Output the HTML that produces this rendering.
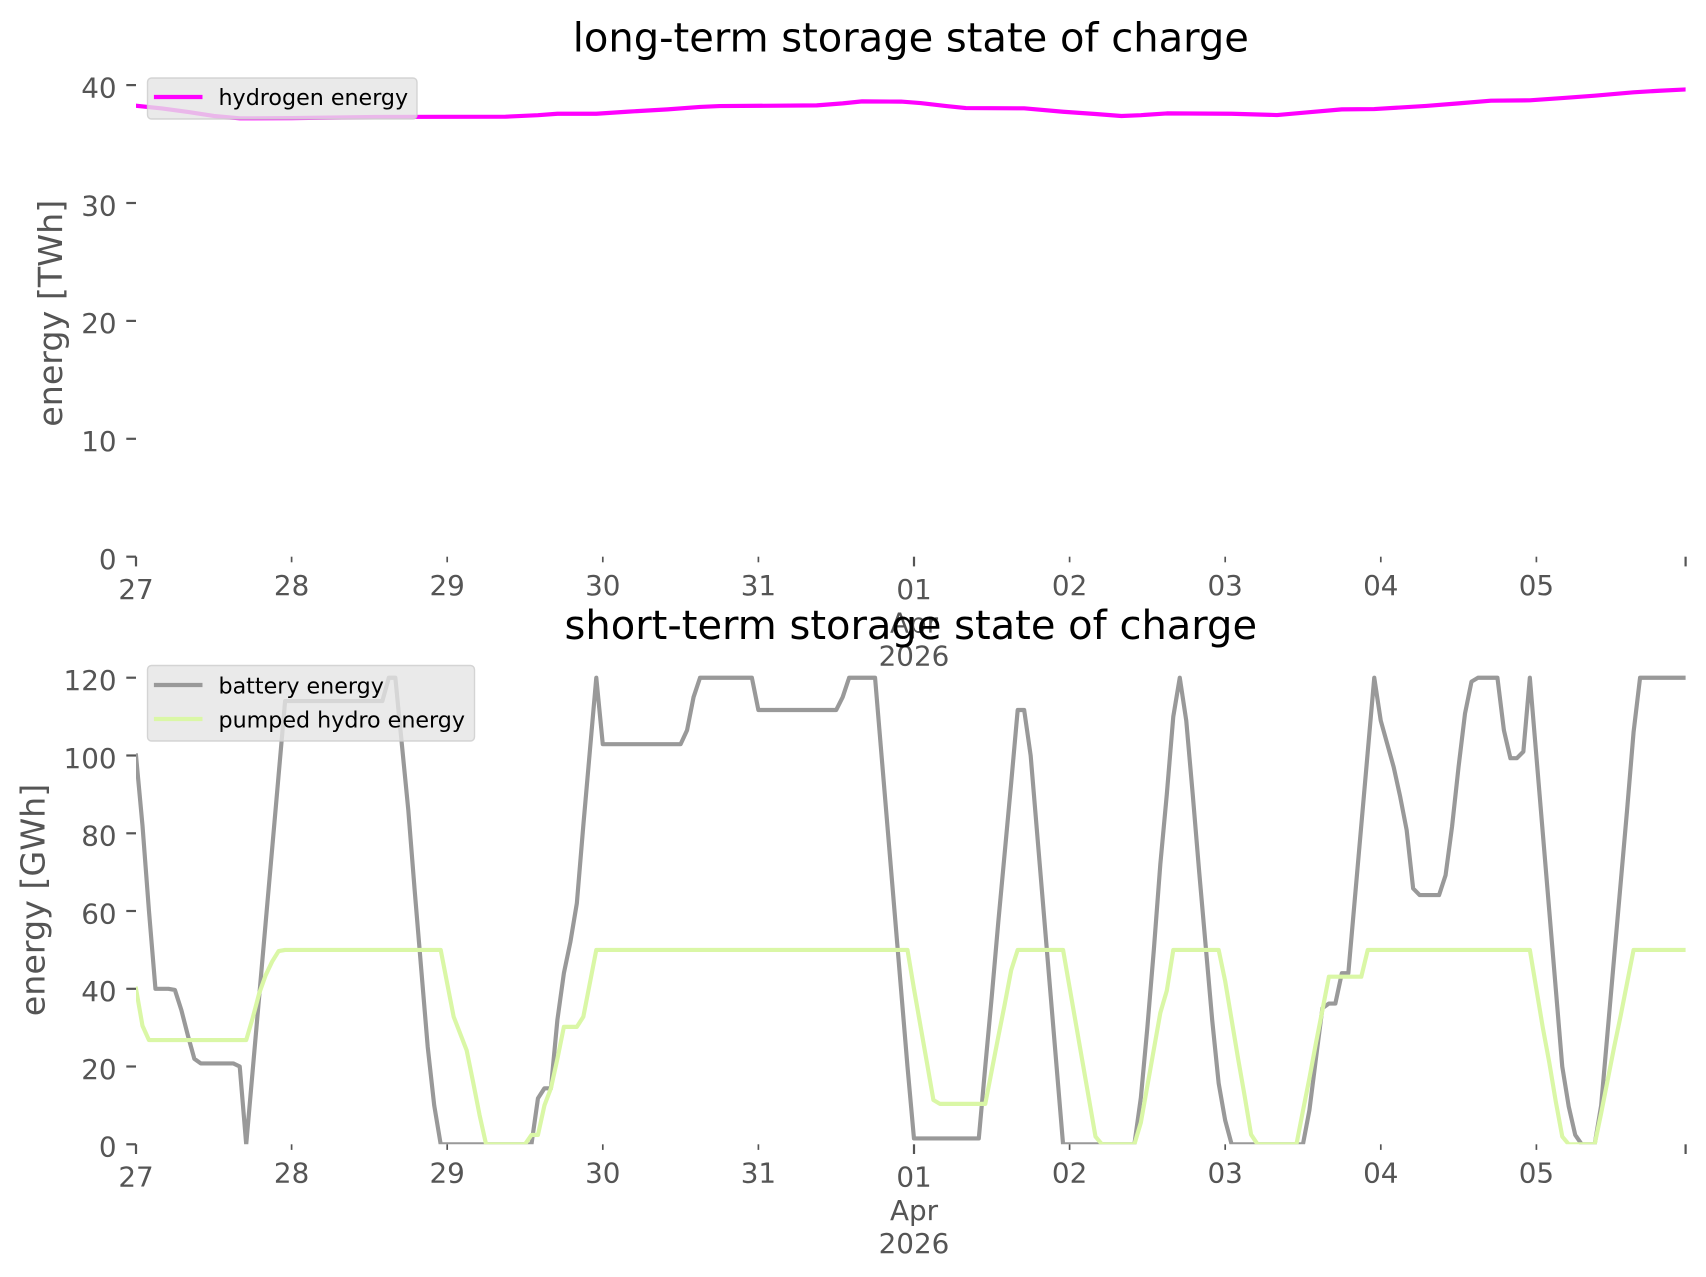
<!DOCTYPE html>
<html>
<head>
<meta charset="utf-8">
<style>
  html, body { margin: 0; padding: 0; background: #ffffff; }
  svg { display: block; }
  text { font-family: "DejaVu Sans", "Liberation Sans", sans-serif; }
  .tl { font-size: 27.8px; fill: #555555; }
  .yl { font-size: 33.3px; fill: #555555; }
  .tt { font-size: 40px; fill: #000000; }
  .lg { font-size: 22.2px; fill: #000000; }
  .tk { stroke: #555555; }
</style>
</head>
<body>
<svg width="1706" height="1277" viewBox="0 0 1706 1277" xmlns="http://www.w3.org/2000/svg">
  <defs>
    <clipPath id="clipT"><rect x="136" y="66.5" width="1549.6" height="490.2"/></clipPath>
    <clipPath id="clipB"><rect x="136" y="654.4" width="1549.6" height="489.9"/></clipPath>
  </defs>
  <rect x="0" y="0" width="1706" height="1277" fill="#ffffff"/>

  <!-- ================= TOP AXES ================= -->
  <g clip-path="url(#clipT)">
    <g transform="translate(136,556.7) scale(6.483,-11.79)">
      <polyline fill="none" stroke="#ff00ff" stroke-width="4.17" vector-effect="non-scaling-stroke" stroke-linejoin="round" stroke-linecap="square"
        points="0,38.25 4,38.02 8,37.72 12,37.38 16,37.18 24,37.2 37,37.3 57,37.32 62,37.45 65,37.57 71,37.57 76,37.75 82,37.94 87,38.15 90,38.22 105,38.28 109,38.45 112,38.62 118,38.6 121,38.48 125,38.22 128,38.05 137,38.03 143,37.74 148,37.55 152,37.38 155,37.45 159,37.6 169,37.57 176,37.46 181,37.7 186,37.94 191,37.97 199,38.23 204,38.45 209,38.68 215,38.71 220,38.9 225,39.1 231,39.39 235,39.52 239,39.63"/>
    </g>
  </g>

  <!-- top y ticks -->
  <g class="tk" stroke-width="2.2">
    <line x1="126.3" y1="556.7" x2="136" y2="556.7"/>
    <line x1="126.3" y1="438.8" x2="136" y2="438.8"/>
    <line x1="126.3" y1="320.9" x2="136" y2="320.9"/>
    <line x1="126.3" y1="203.0" x2="136" y2="203.0"/>
    <line x1="126.3" y1="85.1" x2="136" y2="85.1"/>
  </g>
  <g class="tl" text-anchor="end">
    <text x="116.6" y="569.0">0</text>
    <text x="116.6" y="451.1">10</text>
    <text x="116.6" y="333.2">20</text>
    <text x="116.6" y="215.3">30</text>
    <text x="116.6" y="97.4">40</text>
  </g>

  <!-- top x ticks -->
  <g class="tk">
    <line x1="136" y1="556.7" x2="136" y2="566.4" stroke-width="2.2"/>
    <line x1="914.0" y1="556.7" x2="914.0" y2="566.4" stroke-width="2.2"/>
    <line x1="1685.6" y1="556.7" x2="1685.6" y2="566.4" stroke-width="2.2"/>
    <line x1="291.6" y1="556.7" x2="291.6" y2="562.3" stroke-width="1.67"/>
    <line x1="447.2" y1="556.7" x2="447.2" y2="562.3" stroke-width="1.67"/>
    <line x1="602.8" y1="556.7" x2="602.8" y2="562.3" stroke-width="1.67"/>
    <line x1="758.4" y1="556.7" x2="758.4" y2="562.3" stroke-width="1.67"/>
    <line x1="1069.6" y1="556.7" x2="1069.6" y2="562.3" stroke-width="1.67"/>
    <line x1="1225.2" y1="556.7" x2="1225.2" y2="562.3" stroke-width="1.67"/>
    <line x1="1380.8" y1="556.7" x2="1380.8" y2="562.3" stroke-width="1.67"/>
    <line x1="1536.4" y1="556.7" x2="1536.4" y2="562.3" stroke-width="1.67"/>
  </g>
  <g class="tl" text-anchor="middle">
    <text x="136" y="599">27</text>
    <text x="291.6" y="595">28</text>
    <text x="447.2" y="595">29</text>
    <text x="602.8" y="595">30</text>
    <text x="758.4" y="595">31</text>
    <text x="914.0" y="599">01</text>
    <text x="914.0" y="632.3">Apr</text>
    <text x="914.0" y="665.6">2026</text>
    <text x="1069.6" y="595">02</text>
    <text x="1225.2" y="595">03</text>
    <text x="1380.8" y="595">04</text>
    <text x="1536.4" y="595">05</text>
  </g>

  <text class="yl" text-anchor="middle" transform="translate(62.2,313.3) rotate(-90)">energy [TWh]</text>
  <text class="tt" x="910.8" y="51.5" text-anchor="middle">long-term storage state of charge</text>

  <!-- top legend -->
  <rect x="147.5" y="78" width="269.5" height="41" rx="4" ry="4" fill="#e5e5e5" fill-opacity="0.8" stroke="#cccccc" stroke-opacity="0.8" stroke-width="1.4"/>
  <line x1="156" y1="97" x2="200.4" y2="97" stroke="#ff00ff" stroke-width="4.17" stroke-linecap="square"/>
  <text class="lg" x="218.5" y="105">hydrogen energy</text>

  <!-- ================= BOTTOM AXES ================= -->
  <g clip-path="url(#clipB)">
    <g transform="translate(136,1144.3) scale(6.483,-3.888)">
      <polyline fill="none" stroke="#999999" stroke-width="4.17" vector-effect="non-scaling-stroke" stroke-linejoin="round" stroke-linecap="square"
        points="0,100 1,82 2,60 3,40 4,40 5,40 6,39.7 7,34.5 8,28 9,22 10,20.8 15,20.8 16,20 17,0 18,19 19,38 20,57 21,76 22,95 23,114 38,114 39,120 40,120 41,103 42,86 43,65 44,45 45,25 46,10 47,0 61,0 62,11.8 63,14.4 64,14.4 65,32 66,44 67,52 68,62 69,82 70,101 71,120 72,102.9 84,102.9 85,106.5 86,115 87,120 95,120 96,111.7 108,111.7 109,115 110,120 114,120 115,100 116,80 117,60 118,40 119,20 120,1.5 130,1.5 131,20 132,38 133,57 134,75 135,93 136,111.7 137,111.7 138,100 139,80 140,60 141,40 142,20 143,0 154,0 155,12 156,30 157,50 158,72 159,90 160,110 161,120 162,109 163,90 164,70 165,51 166,32 167,15.7 168,6.2 169,0 180,0 181,8.8 182,22 183,35 184,36.2 185,36.2 186,44 187,44 188,63 189,82 190,101 191,120 192,109 193,103 194,97 195,89.4 196,80.8 197,65.8 198,64.1 201,64.1 202,69.2 203,81.7 204,97 205,110.8 206,119 207,120 210,120 211,106.5 212,99.3 213,99.3 214,101 215,120 216,100 217,80 218,60 219,40 220,20 221,9.7 222,2.4 223,0 225,0 226,10 227,29 228,48 229,67 230,86 231,106 232,120 239,120"/>
      <polyline fill="none" stroke="#daf7a6" stroke-width="4.17" vector-effect="non-scaling-stroke" stroke-linejoin="round" stroke-linecap="square"
        points="0,40 1,30.5 2,26.8 17,26.8 18,32.5 19,38.8 20,43.5 21,47 22,49.7 23,50 47,50 48,41.4 49,32.8 50,28.5 51,24.2 52,16 53,7.5 54,0 60,0 61,2.4 62,2.4 63,10 64,14.4 65,22 66,30.2 68,30.2 69,32.8 70,41.4 71,50 119,50 120,40 121,30.5 122,21 123,11.4 124,10.4 131,10.4 132,19 133,27.6 134,36 135,44.8 136,50 143,50 144,40.4 145,30.8 146,21.2 147,11.6 148,2 149,0 154,0 155,5.6 156,15 157,24.4 158,33.8 159,39.5 160,50 167,50 168,42 169,32 170,22 171,12.5 172,2.5 173,0 179,0 180,8.6 181,17 182,26 183,34.5 184,43.1 189,43.1 190,50 215,50 216,40 217,30 218,21 219,11 220,2 221,0 225,0 226,8 227,16.5 228,25 229,33 230,41.5 231,50 239,50"/>
    </g>
  </g>

  <!-- bottom y ticks -->
  <g class="tk" stroke-width="2.2">
    <line x1="126.3" y1="1144.3" x2="136" y2="1144.3"/>
    <line x1="126.3" y1="1066.5" x2="136" y2="1066.5"/>
    <line x1="126.3" y1="988.8" x2="136" y2="988.8"/>
    <line x1="126.3" y1="911.0" x2="136" y2="911.0"/>
    <line x1="126.3" y1="833.3" x2="136" y2="833.3"/>
    <line x1="126.3" y1="755.5" x2="136" y2="755.5"/>
    <line x1="126.3" y1="677.7" x2="136" y2="677.7"/>
  </g>
  <g class="tl" text-anchor="end">
    <text x="116.6" y="1156.6">0</text>
    <text x="116.6" y="1078.8">20</text>
    <text x="116.6" y="1001.1">40</text>
    <text x="116.6" y="923.3">60</text>
    <text x="116.6" y="845.6">80</text>
    <text x="116.6" y="767.8">100</text>
    <text x="116.6" y="690.0">120</text>
  </g>

  <!-- bottom x ticks -->
  <g class="tk">
    <line x1="136" y1="1144.3" x2="136" y2="1154.0" stroke-width="2.2"/>
    <line x1="914.0" y1="1144.3" x2="914.0" y2="1154.0" stroke-width="2.2"/>
    <line x1="1685.6" y1="1144.3" x2="1685.6" y2="1154.0" stroke-width="2.2"/>
    <line x1="291.6" y1="1144.3" x2="291.6" y2="1149.9" stroke-width="1.67"/>
    <line x1="447.2" y1="1144.3" x2="447.2" y2="1149.9" stroke-width="1.67"/>
    <line x1="602.8" y1="1144.3" x2="602.8" y2="1149.9" stroke-width="1.67"/>
    <line x1="758.4" y1="1144.3" x2="758.4" y2="1149.9" stroke-width="1.67"/>
    <line x1="1069.6" y1="1144.3" x2="1069.6" y2="1149.9" stroke-width="1.67"/>
    <line x1="1225.2" y1="1144.3" x2="1225.2" y2="1149.9" stroke-width="1.67"/>
    <line x1="1380.8" y1="1144.3" x2="1380.8" y2="1149.9" stroke-width="1.67"/>
    <line x1="1536.4" y1="1144.3" x2="1536.4" y2="1149.9" stroke-width="1.67"/>
  </g>
  <g class="tl" text-anchor="middle">
    <text x="136" y="1186.6">27</text>
    <text x="291.6" y="1182.6">28</text>
    <text x="447.2" y="1182.6">29</text>
    <text x="602.8" y="1182.6">30</text>
    <text x="758.4" y="1182.6">31</text>
    <text x="914.0" y="1186.6">01</text>
    <text x="914.0" y="1219.9">Apr</text>
    <text x="914.0" y="1253.2">2026</text>
    <text x="1069.6" y="1182.6">02</text>
    <text x="1225.2" y="1182.6">03</text>
    <text x="1380.8" y="1182.6">04</text>
    <text x="1536.4" y="1182.6">05</text>
  </g>

  <text class="yl" text-anchor="middle" transform="translate(44.6,900) rotate(-90)">energy [GWh]</text>
  <text class="tt" x="910.8" y="639" text-anchor="middle">short-term storage state of charge</text>

  <!-- bottom legend -->
  <rect x="147.5" y="665.5" width="327" height="75.5" rx="4" ry="4" fill="#e5e5e5" fill-opacity="0.8" stroke="#cccccc" stroke-opacity="0.8" stroke-width="1.4"/>
  <line x1="156" y1="685" x2="200.4" y2="685" stroke="#999999" stroke-width="4.17" stroke-linecap="square"/>
  <text class="lg" x="218.5" y="693.3">battery energy</text>
  <line x1="156" y1="719" x2="200.4" y2="719" stroke="#daf7a6" stroke-width="4.17" stroke-linecap="square"/>
  <text class="lg" x="218.5" y="727.7">pumped hydro energy</text>
</svg>
</body>
</html>
